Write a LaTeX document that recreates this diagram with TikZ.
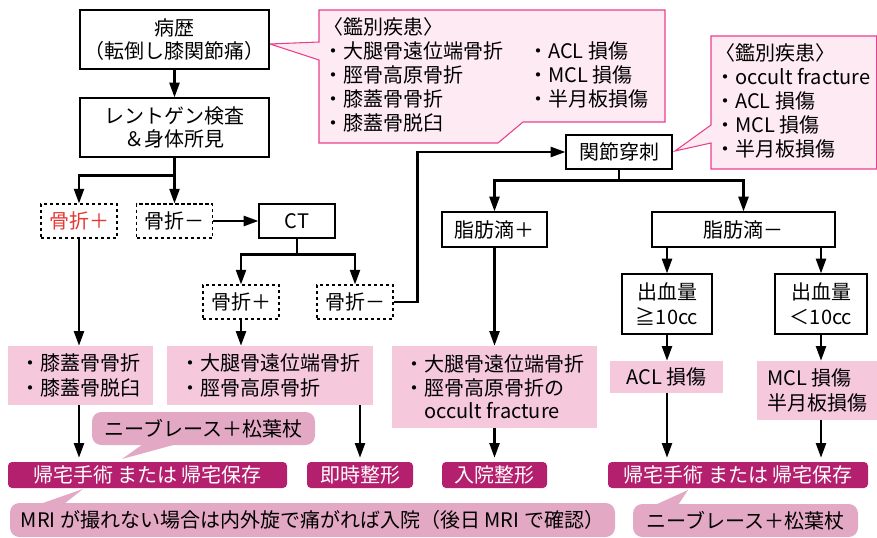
\documentclass[tikz,border=0pt]{standalone}
\usepackage{fontspec}
\setmainfont{Noto Sans CJK JP}
\usepackage{tikz}
\usetikzlibrary{arrows.meta}
\definecolor{pinkbg}{HTML}{F5C8DC}
\definecolor{endbg}{HTML}{B4206E}
\definecolor{tipbg}{HTML}{E3A8C4}
\definecolor{notebg}{HTML}{FDEAF2}
\definecolor{noteline}{HTML}{E8408D}
\definecolor{plusred}{HTML}{E53935}
\tikzset{
  every node/.style={font=\fontsize{15pt}{17pt}\selectfont, inner sep=0pt},
  wh/.style 2 args={minimum width={#1*0.75pt}, minimum height={#2*0.75pt}},
  box/.style={draw, line width=0.9pt, fill=white, align=center},
  dbox/.style={box, line width=0.8pt, dash pattern=on 2.5pt off 2pt},
  res/.style={fill=pinkbg, align=left, font=\fontsize{15pt}{19pt}\selectfont},
  fin/.style={fill=endbg, text=white, rounded corners=3pt},
  tip/.style={fill=tipbg, rounded corners=7pt},
  note/.style={draw=noteline, fill=notebg, line width=0.8pt},
  arr/.style={line width=1.7pt, -{Triangle[length=11pt,width=7.5pt]}},
}

\begin{document}
\begin{tikzpicture}[x=0.75pt, y=-0.75pt]
\useasboundingbox (0,0) rectangle (877,538);

% callouts
\draw[note] (319,10) -- (665,10) -- (665,122) -- (523,122) -- (498,143) -- (319,143)
  -- (319,60) -- (270,44) -- (319,42) -- cycle;
\foreach \t [count=\i from 0] in {〈鑑別疾患〉, ・大腿骨遠位端骨折, ・脛骨高原骨折, ・膝蓋骨骨折, ・膝蓋骨脱臼}
  \node[anchor=base west] (dda\i) at (323,{34.5+24*\i}) {\t};
\foreach \t [count=\i from 1] in {・ACL 損傷, ・MCL 損傷, ・半月板損傷}
  \node[anchor=base west] (ddb\i) at (528,{34.5+24*\i}) {\t};

\draw[note] (711,36) -- (876.6,36) -- (876.6,169) -- (711,169) -- (711,143) -- (675,151)
  -- (711,125) -- cycle;
\foreach \t [count=\i from 0] in {〈鑑別疾患〉, ・occult fracture, ・ACL 損傷, ・MCL 損傷, ・半月板損傷}
  \node[anchor=base west] (ddc\i) at (715,{61+24*\i}) {\t};

% flow
\node[box, wh={189}{59}] (hist) at (174.5,39.5) {病歴\\（転倒し膝関節痛）};
\node[box, wh={189}{59}] (xray) at (174.5,127.5) {レントゲン検査\\＆身体所見};
\node[dbox, wh={76}{34}, text=plusred] (fxp) at (79,221) {骨折＋};
\node[dbox, wh={76}{34}] (fxm) at (174.5,221) {骨折－};
\node[box, wh={76}{34}] (ct) at (297,221) {CT};
\node[dbox, wh={76}{34}] (ctp) at (241,302) {骨折＋};
\node[dbox, wh={76}{34}] (ctm) at (355,302) {骨折－};
\node[box, wh={106}{34}] (tap) at (619,152) {関節穿刺};
\node[box, wh={105}{35}] (fatp) at (494.5,229.5) {脂肪滴＋};
\node[box, wh={183}{35}] (fatm) at (743.5,229.5) {脂肪滴－};
\node[box, wh={90}{60}, font=\fontsize{15pt}{19pt}\selectfont] (bldh) at (667,304) {出血量\\≧10cc};
\node[box, wh={92}{60}, font=\fontsize{15pt}{19pt}\selectfont] (bldl) at (821,304) {出血量\\＜10cc};

% results
\node[res, wh={145}{59}] (rpat) at (80.5,375.5) {・膝蓋骨骨折\\・膝蓋骨脱臼};
\node[res, wh={206}{59}] (rfem) at (270,375.5) {・大腿骨遠位端骨折\\・脛骨高原骨折};
\node[res, wh={205}{82}, font=\fontsize{15pt}{17.6pt}\selectfont] (rocc) at (494.5,387)
  {・大腿骨遠位端骨折\\・脛骨高原骨折の\\\hspace*{1em}occult fracture};
\node[res, wh={113}{32}] (racl) at (666.5,377) {ACL 損傷};
\node[res, wh={120}{59}] (rmcl) at (817,390.5) {MCL 損傷\\半月板損傷};

\node[fin, wh={279}{26}] (home1) at (147.5,475) {帰宅手術 または 帰宅保存};
\node[fin, wh={106}{26}] (ortho) at (360,475) {即時整形};
\node[fin, wh={105}{26}] (admit) at (494.5,475) {入院整形};
\node[fin, wh={260}{26}] (home2) at (738,475) {帰宅手術 または 帰宅保存};

% bubbles
\node[tip, wh={223}{33}] (brace1) at (203.5,428.5) {ニーブレース＋松葉杖};
\fill[tipbg] (143,444) -- (122,459) -- (177,444) -- cycle;
\node[tip, wh={605}{34}] (mri) at (312.5,520) {MRI が撮れない場合は内外旋で痛がれば入院（後日 MRI で確認）};
\fill[tipbg] (40,504) -- (83,489) -- (64,504) -- cycle;
\node[tip, wh={225}{33}] (brace2) at (745.5,520.5) {ニーブレース＋松葉杖};
\fill[tipbg] (655,505) -- (688,490) -- (678,505) -- cycle;

% arrows
\draw[arr] (hist) -- (xray);
\draw[arr] (xray.south) -- (fxm.north);
\draw[arr] (xray.south) ++(0,18) -| (fxp.north);
\draw[arr] (fxm) -- (ct);
\draw[arr] (ct.south) -- ++(0,16) -| (ctm.north);
\draw[arr] (ct.south) ++(0,16) -| (ctp.north);
\draw[arr] (ctm.east) -- ++(24,0) |- (tap.west);
\draw[arr] (tap.south) -- ++(0,11) -| (fatp.north);
\draw[arr] (tap.south) ++(0,11) -| (fatm.north);
\draw[arr] (bldh |- fatm.south) -- (bldh.north);
\draw[arr] (bldl |- fatm.south) -- (bldl.north);
\draw[arr] (fxp) -- (fxp |- rpat.north);
\draw[arr] (ctp) -- (ctp |- rfem.north);
\draw[arr] (fatp) -- (rocc);
\draw[arr] (bldh) -- (bldh |- racl.north);
\draw[arr] (bldl) -- (bldl |- rmcl.north);
\draw[arr, shorten >=3pt] (fxp |- rpat.south) -- (fxp |- home1.north);
\draw[arr, shorten >=3pt] (ortho |- rfem.south) -- (ortho);
\draw[arr, shorten >=3pt] (rocc) -- (admit);
\draw[arr, shorten >=3pt] (bldh |- racl.south) -- (bldh |- home2.north);
\draw[arr, shorten >=3pt] (bldl |- rmcl.south) -- (bldl |- home2.north);
\end{tikzpicture}
\end{document}
